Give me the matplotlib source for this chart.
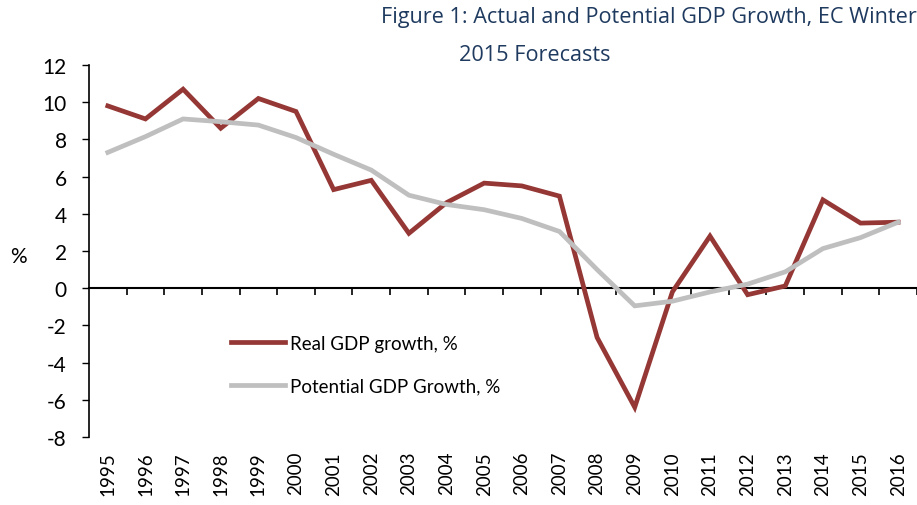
import matplotlib
matplotlib.use("Agg")
import matplotlib.pyplot as plt
import numpy as np

years = [str(y) for y in range(1995, 2017)]
real_gdp = [9.8, 9.1, 10.7, 8.6, 10.2, 9.5, 5.3, 5.8, 2.95, 4.6, 5.65,
            5.5, 4.95, -2.65, -6.4, -0.2, 2.8, -0.35, 0.12, 4.75, 3.5, 3.55]
potential_gdp = [7.3, 8.15, 9.1, 8.95, 8.77, 8.1, 7.2, 6.35, 5.0, 4.5, 4.22,
                 3.75, 3.05, 1.0, -0.95, -0.7, -0.2, 0.22, 0.88, 2.13, 2.72, 3.55]

RED = "#953735"
GREY = "#BFBFBF"
NAVY = "#1F3A5F"

plt.rcParams["font.family"] = ["Lato", "DejaVu Sans"]
plt.rcParams["axes.unicode_minus"] = False

fig = plt.figure(figsize=(9.17, 5.06), dpi=100)
ax = fig.add_axes([89 / 917, 1 - 438 / 506, 1 - 89 / 917, (438 - 66) / 506])

x = np.arange(len(years))
ax.plot(x, real_gdp, color=RED, lw=3.4, solid_joinstyle="miter",
        label="Real GDP growth, %")
ax.plot(x, potential_gdp, color=GREY, lw=3.4, solid_joinstyle="miter",
        label="Potential GDP Growth, %")

ymin, ymax = -8, 12
ax.set_ylim(ymin, ymax)
ax.set_xlim(-0.5, len(years) - 0.5)
ax.set_yticks(np.arange(ymin, ymax + 1, 2))
ax.tick_params(axis="y", direction="out", length=5, width=1, pad=11,
               labelsize=15)

# category labels at the bottom, no tick marks
ax.set_xticks(x)
ax.set_xticklabels(years, rotation=90, fontsize=13.5)
ax.tick_params(axis="x", length=0, pad=10)

for s in ["top", "right", "bottom"]:
    ax.spines[s].set_visible(False)
ax.spines["left"].set_linewidth(1.2)

# zero line with ticks between categories
zero_frac = (0 - ymin) / (ymax - ymin)
sec = ax.secondary_xaxis(zero_frac)
sec.set_xticks(np.arange(0.5, len(years), 1.0))
sec.set_xticklabels([])
sec.tick_params(direction="out", length=5, width=1.2)
sec.spines["bottom"].set_linewidth(1.5)

ax.set_ylabel("%", rotation=0, fontsize=15)
ax.yaxis.set_label_coords(-0.085, 0.46)

leg = ax.legend(loc="upper left", bbox_to_anchor=(0.162, 0.295), frameon=False,
                fontsize=13.5, handlelength=2.9, handletextpad=0.25,
                labelspacing=1.38, borderaxespad=0)

fig.text(0.708, 0.965, "Figure 1: Actual and Potential GDP Growth, EC Winter",
         ha="center", va="center", color=NAVY, fontsize=15.6,
         family=["Open Sans", "DejaVu Sans"])
fig.text(0.583, 0.89, "2015 Forecasts", ha="center", va="center",
         color=NAVY, fontsize=15.6, family=["Open Sans", "DejaVu Sans"])

fig.savefig("out.png", dpi=100)
